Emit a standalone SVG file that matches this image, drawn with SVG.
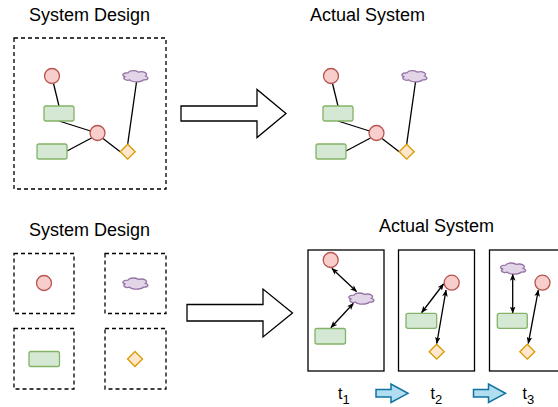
<svg xmlns="http://www.w3.org/2000/svg" width="558" height="407" viewBox="0 0 558 407">
<style>
.title{font-family:"Liberation Sans",Arial,sans-serif;font-size:18px;fill:#000;text-anchor:middle}
.tl{font-family:"Liberation Sans",Arial,sans-serif;font-size:16px;fill:#000}
.dash{fill:none;stroke:#000;stroke-width:1.3;stroke-dasharray:4 3}
.frame{fill:#fff;stroke:#000;stroke-width:1.3}
.red{fill:#f8cecc;stroke:#b85450;stroke-width:1.3}
.green{fill:#d5e8d4;stroke:#82b366;stroke-width:1.3}
.purple{fill:#e1d5e7;stroke:#9673a6;stroke-width:1.3}
.orange{fill:#ffe6cc;stroke:#d79b00;stroke-width:1.3}
.big{fill:#fff;stroke:#000;stroke-width:1.3;stroke-linejoin:miter}
.blue{fill:#b1ddf0;stroke:#10739e;stroke-width:1.5}
.ln{stroke:#000;stroke-width:1.3;fill:none}
.dbl{stroke:#000;stroke-width:1.3;fill:none;marker-start:url(#ah);marker-end:url(#ah)}
</style>
<defs>
<path id="cloud" d="M -7 -3.25 C -12.6 -3.25 -14 0 -9.52 0.65 C -14 2.08 -8.96 5.2 -5.32 3.9 C -2.8 6.5 5.6 6.5 8.4 3.9 C 14 3.9 14 1.3 10.5 0 C 14 -2.6 8.4 -5.2 3.5 -3.9 C 0 -5.85 -5.6 -5.85 -7 -3.25 Z"/>
<path id="dia" d="M 0 -7.5 L 7.5 0 L 0 7.5 L -7.5 0 Z"/>
<marker id="ah" viewBox="0 0 10 8" refX="9" refY="4" markerWidth="7" markerHeight="5.6" markerUnits="userSpaceOnUse" orient="auto-start-reverse">
<path d="M0,0 L10,4 L0,8 L2.5,4 Z" fill="#000"/>
</marker>
</defs>

<!-- Titles -->
<text class="title" x="89.5" y="20.5">System Design</text>
<text class="title" x="367.5" y="20.5">Actual System</text>
<text class="title" x="89.5" y="235.5">System Design</text>
<text class="title" x="436.5" y="231.5">Actual System</text>

<!-- Top left design container -->
<rect id="design-box" class="dash" x="14" y="38" width="152" height="151"/>

<!-- Connectors -->
<g id="connectors">
<line class="ln" x1="53.5" y1="83.5" x2="59" y2="106"/>
<line class="ln" x1="59" y1="121" x2="90.5" y2="131"/>
<line class="ln" x1="91.5" y1="138" x2="67" y2="151"/>
<line class="ln" x1="103" y1="138.5" x2="120.2" y2="151.7"/>
<line class="ln" x1="136.5" y1="82" x2="127.7" y2="144.2"/>
<g transform="translate(279,0)">
<line class="ln" x1="53.5" y1="83.5" x2="59" y2="106"/>
<line class="ln" x1="59" y1="121" x2="90.5" y2="131"/>
<line class="ln" x1="91.5" y1="138" x2="67" y2="151"/>
<line class="ln" x1="103" y1="138.5" x2="120.2" y2="151.7"/>
<line class="ln" x1="136.5" y1="82" x2="127.7" y2="144.2"/>
</g>
</g>

<!-- Top left nodes -->
<g id="td-c1"><circle class="red" cx="52" cy="76" r="7.5"/></g>
<g id="td-r1"><rect class="green" x="44" y="106" width="30" height="15" rx="2"/></g>
<g id="td-c2"><circle class="red" cx="97.5" cy="133" r="7.5"/></g>
<g id="td-r2"><rect class="green" x="37" y="144" width="30" height="15" rx="2"/></g>
<g id="td-d"><use href="#dia" class="orange" x="127.7" y="151.7"/></g>
<g id="td-cl"><use href="#cloud" class="purple" x="135" y="76"/></g>

<!-- Top right nodes -->
<g id="ta-c1"><circle class="red" cx="331" cy="76" r="7.5"/></g>
<g id="ta-r1"><rect class="green" x="323" y="106" width="30" height="15" rx="2"/></g>
<g id="ta-c2"><circle class="red" cx="376.5" cy="133" r="7.5"/></g>
<g id="ta-r2"><rect class="green" x="316" y="144" width="30" height="15" rx="2"/></g>
<g id="ta-d"><use href="#dia" class="orange" x="406.7" y="151.7"/></g>
<g id="ta-cl"><use href="#cloud" class="purple" x="414" y="76"/></g>

<!-- Big arrows -->
<g id="arrow-top"><path class="big" d="M181 106 L257 106 L257 89.5 L286 113.5 L257 137.5 L257 121 L181 121 Z"/></g>
<g id="arrow-bottom"><path class="big" d="M187 304.5 L263 304.5 L263 289 L292.5 313 L263 337 L263 321 L187 321 Z"/></g>

<!-- Bottom left design boxes -->
<g id="bd-1"><rect class="dash" x="14" y="253.5" width="60" height="60"/><circle class="red" cx="44" cy="283" r="7.5"/></g>
<g id="bd-2"><rect class="dash" x="105" y="253.5" width="61" height="60"/><use href="#cloud" class="purple" x="135" y="283.3"/></g>
<g id="bd-3"><rect class="dash" x="14" y="328.5" width="60" height="60.5"/><rect class="green" x="29" y="351.5" width="30.5" height="15" rx="2"/></g>
<g id="bd-4"><rect class="dash" x="105" y="328.5" width="61" height="60.5"/><use href="#dia" class="orange" x="135" y="359"/></g>

<!-- Bottom right frames -->
<g id="frame-t1"><rect class="frame" x="308" y="250" width="76" height="121"/></g>
<g id="frame-t2"><rect class="frame" x="398.5" y="250" width="76" height="121"/></g>
<g id="frame-t3"><rect class="frame" x="489.5" y="250" width="76" height="121"/></g>

<g id="f1-nodes">
<g id="f1-c"><circle class="red" cx="330.7" cy="260" r="7.5"/></g>
<g id="f1-cl"><use href="#cloud" class="purple" x="361" y="298.3"/></g>
<g id="f1-r"><rect class="green" x="315" y="328.5" width="30.5" height="15.5" rx="2"/></g>
</g>
<g id="f2-nodes">
<g id="f2-c"><circle class="red" cx="451.7" cy="282.7" r="7.5"/></g>
<g id="f2-r"><rect class="green" x="406" y="313.3" width="30.7" height="15" rx="2"/></g>
<g id="f2-d"><use href="#dia" class="orange" x="436.7" y="351.7"/></g>
</g>
<g id="f3-nodes">
<g id="f3-cl"><use href="#cloud" class="purple" x="512.7" y="268.3"/></g>
<g id="f3-c"><circle class="red" cx="542.5" cy="282.7" r="7.5"/></g>
<g id="f3-r"><rect class="green" x="497.3" y="313.3" width="30" height="15" rx="2"/></g>
<g id="f3-d"><use href="#dia" class="orange" x="527.3" y="351.7"/></g>
</g>

<g id="frame-connectors">
<line class="dbl" x1="332" y1="268.5" x2="356.5" y2="291.5"/>
<line class="dbl" x1="353.3" y1="303.5" x2="331" y2="327.5"/>
<line class="dbl" x1="443.5" y1="284" x2="421.7" y2="312.5"/>
<line class="dbl" x1="446" y1="290.2" x2="436.8" y2="343.3"/>
<line class="dbl" x1="512.7" y1="274.5" x2="512.7" y2="312.8"/>
<line class="dbl" x1="538.3" y1="290.2" x2="528.3" y2="343.3"/>
</g>

<!-- Time labels -->
<text class="tl" x="338" y="398.5">t<tspan font-size="13" dy="5">1</tspan></text>
<text class="tl" x="430.5" y="398.5">t<tspan font-size="13" dy="5">2</tspan></text>
<text class="tl" x="522.5" y="398.5">t<tspan font-size="13" dy="5">3</tspan></text>

<!-- Blue step arrows -->
<g id="step1"><path class="blue" d="M376 389.5 L391 389.5 L391 384 L408 393.3 L391 402.5 L391 397 L376 397 Z"/></g>
<g id="step2"><path class="blue" d="M473.5 389.5 L488.5 389.5 L488.5 384 L505.5 393.3 L488.5 402.5 L488.5 397 L473.5 397 Z"/></g>
</svg>
